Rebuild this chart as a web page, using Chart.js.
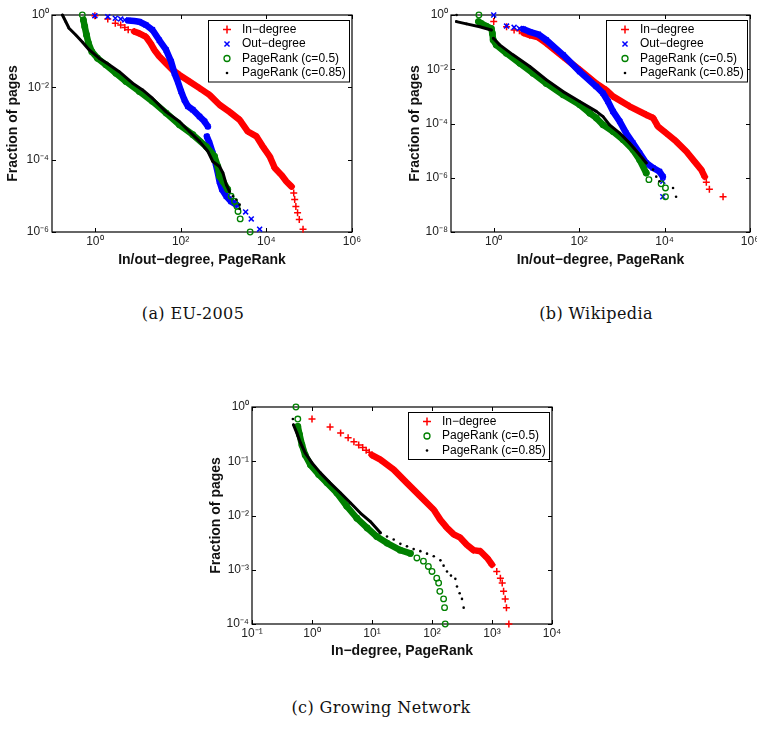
<!DOCTYPE html>
<html>
<head>
<meta charset="UTF-8">
<title>In-degree and PageRank distributions</title>
<script src="https://cdn.jsdelivr.net/npm/chart.js@4"></script>
<style>
  body { margin: 0; background: #fff; }
  #page { position: relative; width: 757px; height: 729px; overflow: hidden; }
  canvas { position: absolute; }
  .caption { position: absolute; font-family: "DejaVu Serif", serif; font-size: 16px; letter-spacing: 0.4px;
             line-height: 20px; white-space: nowrap; transform: translateX(-50%); color: #111; }
</style>
</head>
<body>
<div id="page">
  <canvas id="eu" width="380" height="272" style="left:0;top:0"></canvas>
  <canvas id="wiki" width="390" height="272" style="left:390px;top:0"></canvas>
  <canvas id="gn" width="380" height="275" style="left:200px;top:390px"></canvas>
  <div class="caption" style="left:193px;top:304px">(a) EU-2005</div>
  <div class="caption" style="left:596px;top:304px">(b) Wikipedia</div>
  <div class="caption" style="left:381px;top:698px">(c) Growing Network</div>
</div>

<script>
// (a) EU-2005
const euXTicks = [1, 1e2, 1e4, 1e6];
const euYTicks = [1, 1e-2, 1e-4, 1e-6];
const euInX = [1, 2, 3, 4, 5, 6, 8.3, 10.9, 15.6, 20, 24.5, 32, 46, 66, 94, 161, 277, 473, 810, 1390, 2390, 3720, 5890, 8300, 12000, 15800, 22400, 29500, 38900, 43700, 46000, 49000, 53700, 58900, 72000];
const euInY = [0.96, 0.78, 0.59, 0.53, 0.45, 0.39, 0.35, 0.31, 0.25, 0.165, 0.108, 0.071, 0.046, 0.03, 0.022, 0.0145, 0.0095, 0.0062, 0.0033, 0.0021, 0.00126, 6e-4, 4.4e-4, 2.3e-4, 1.23e-4, 5.9e-5, 3.8e-5, 2.5e-5, 1.8e-5, 1.2e-5, 7.9e-6, 5.1e-6, 3.4e-6, 2.2e-6, 1.2e-6];
const euOutX = [1, 2, 3, 4, 5, 6, 8.3, 10.9, 15.6, 22, 32, 46, 60, 72, 86, 103, 123, 148, 193, 277, 363, 433, 410, 473, 565, 655, 740, 810, 930, 1170, 1510, 2000, 3300, 4460, 7000];
const euOutY = [0.96, 0.9, 0.81, 0.78, 0.73, 0.7, 0.68, 0.65, 0.53, 0.39, 0.2, 0.108, 0.052, 0.0245, 0.0145, 0.0077, 0.0045, 0.003, 0.0024, 0.00156, 0.00114, 8.3e-4, 4.4e-4, 2.9e-4, 1.5e-4, 8.1e-5, 4.3e-5, 2.5e-5, 1.5e-5, 9.7e-6, 7e-6, 5.7e-6, 3.6e-6, 2.3e-6, 1.2e-6];
const euPr5X = [0.51, 0.54, 0.58, 0.64, 0.71, 0.85, 1.15, 1.8, 3.1, 5.3, 10.9, 22, 46, 94, 193, 398, 620, 740, 810, 975, 1260, 1510, 1820, 2070, 2190, 2460, 4200];
const euPr5Y = [1, 0.73, 0.48, 0.28, 0.165, 0.097, 0.064, 0.042, 0.0245, 0.0145, 0.0077, 0.0041, 0.00194, 9.2e-4, 4.9e-4, 2.3e-4, 1.23e-4, 6.5e-5, 3.5e-5, 2.5e-5, 1.5e-5, 9.7e-6, 7e-6, 5.1e-6, 3.7e-6, 2.3e-6, 1e-6];
const euPr85X = [0.175, 0.21, 0.25, 0.36, 0.51, 0.74, 1.26, 2.16, 3.7, 7.6, 13, 22, 46, 94, 161, 277, 433, 565, 810, 975, 1170, 1390, 1660, 2000, 2390, 2390];
const euPr85Y = [1, 0.65, 0.43, 0.28, 0.18, 0.108, 0.064, 0.042, 0.027, 0.013, 0.0085, 0.005, 0.0021, 0.00114, 6e-4, 3.2e-4, 1.7e-4, 8.9e-5, 6.5e-5, 4.3e-5, 2e-5, 1.3e-5, 9.7e-6, 7.8e-6, 5.7e-6, 4.4e-6];

// (b) Wikipedia
const wikiXTicks = [1, 1e2, 1e4, 1e6];
const wikiYTicks = [1, 1e-2, 1e-4, 1e-6, 1e-8];
const wikiInX = [1, 2, 3, 4, 5, 7, 11, 17, 42, 103, 252, 433, 620, 1510, 3720, 5370, 7000, 11000, 18600, 32400, 50000, 72000, 87000, 95000, 112000, 234000];
const wikiInY = [0.57, 0.37, 0.28, 0.26, 0.22, 0.18, 0.15, 0.091, 0.029, 0.0095, 0.003, 0.0017, 0.001, 4.3e-4, 2.1e-4, 1.6e-4, 7.8e-5, 4.4e-5, 2.2e-5, 9.3e-6, 4e-6, 2e-6, 1.1e-6, 6.8e-7, 3.8e-7, 2e-7];
const wikiOutX = [1, 2, 3, 4, 5, 7, 11, 17, 42, 103, 252, 363, 475, 620, 890, 1260, 1820, 2600, 3720, 5370, 7600, 9100, 9100, 9100];
const wikiOutY = [1, 0.39, 0.35, 0.32, 0.3, 0.24, 0.195, 0.12, 0.034, 0.0082, 0.0023, 0.0013, 6.5e-4, 2.8e-4, 1.2e-4, 4.4e-5, 1.9e-5, 8.1e-6, 3.5e-6, 2.3e-6, 1.7e-6, 1.1e-6, 7.4e-7, 2e-7];
const wikiPr5X = [0.45, 0.44, 0.51, 0.67, 0.88, 0.93, 0.97, 1.15, 1.98, 4.1, 8.3, 17, 42, 103, 178, 252, 363, 620, 1070, 1820, 2600, 3720, 4300, 8300, 10500, 10500];
const wikiPr5Y = [1, 0.57, 0.49, 0.39, 0.32, 0.21, 0.12, 0.079, 0.039, 0.0166, 0.0071, 0.003, 0.00114, 4.9e-4, 2.4e-4, 1.6e-4, 8.9e-5, 5.1e-5, 2.5e-5, 1.07e-5, 4.6e-6, 1.5e-6, 8.5e-7, 6e-7, 4.2e-7, 2e-7];
const wikiPr85X = [0.135, 0.134, 0.23, 0.47, 0.88, 0.98, 1.38, 2.83, 7, 17, 42, 103, 252, 363, 515, 890, 1510, 2600, 3720, 5370, 6400, 7600, 15800, 18600];
const wikiPr85Y = [1, 0.57, 0.47, 0.37, 0.28, 0.138, 0.079, 0.034, 0.0126, 0.0041, 0.0015, 6.5e-4, 2.8e-4, 1.8e-4, 8.9e-5, 4.4e-5, 1.9e-5, 7e-6, 3.5e-6, 2e-6, 1.1e-6, 7.4e-7, 4.2e-7, 2e-7];

// (c) Growing Network
const gnXTicks = [0.1, 1, 10, 100, 1000, 10000];
const gnYTicks = [1, 0.1, 0.01, 0.001, 1e-4];
const gnInX = [1, 2, 3, 4, 5, 6, 7, 8, 9, 10, 13.8, 23, 38, 64, 107, 138, 178, 230, 296, 380, 490, 640, 830, 1000, 1200, 1380, 1480, 1560, 1660, 1740, 1910];
const gnInY = [0.6, 0.43, 0.33, 0.27, 0.23, 0.2, 0.18, 0.16, 0.146, 0.13, 0.107, 0.07, 0.04, 0.0225, 0.0128, 0.0083, 0.0059, 0.0045, 0.0039, 0.0029, 0.0023, 0.0022, 0.00165, 0.00124, 9.3e-4, 7e-4, 5.7e-4, 4e-4, 2.9e-4, 2e-4, 1e-4];
const gnPr5X = [0.54, 0.58, 0.58, 0.62, 0.68, 0.77, 0.94, 1.29, 1.78, 2.6, 3.8, 5.6, 8.3, 12, 17.8, 29.5, 43.6, 56, 72, 87, 100, 120, 129, 135, 156, 162, 166];
const gnPr5Y = [1, 0.6, 0.44, 0.31, 0.2, 0.13, 0.086, 0.057, 0.04, 0.026, 0.0148, 0.0089, 0.0059, 0.0041, 0.0031, 0.0023, 0.002, 0.00165, 0.00144, 0.00115, 9.3e-4, 7e-4, 5.7e-4, 4e-4, 2.9e-4, 2e-4, 1e-4];
const gnPr85X = [0.48, 0.49, 0.56, 0.64, 0.77, 1, 1.38, 2.0, 3.0, 4.4, 6.4, 9.3, 13.8, 17.8, 23, 29.7, 38.3, 49.5, 64, 82.6, 107, 138, 156, 178, 207, 245, 261, 289, 316, 337];
const gnPr85Y = [0.6, 0.47, 0.33, 0.22, 0.142, 0.093, 0.061, 0.04, 0.026, 0.017, 0.0111, 0.0078, 0.0048, 0.0041, 0.0036, 0.003, 0.0027, 0.0024, 0.0022, 0.00198, 0.00177, 0.00149, 0.00119, 9.3e-4, 7.8e-4, 6.8e-4, 4.9e-4, 3.7e-4, 2.9e-4, 2e-4];

const FONT = '"Liberation Sans", Arial, Helvetica, sans-serif';
const STYLE = {
    in:   { label: 'In\u2212degree', color: '#ff0000', pointStyle: 'cross', r: 3.5, bw: 1.5, band: 6.5, order: 4, legendR: 4 },
    out:  { label: 'Out\u2212degree', color: '#0000ff', pointStyle: 'crossRot', r: 3.5, bw: 1.5, band: 6.5, order: 3, legendR: 3.6 },
    pr5:  { label: 'PageRank (c=0.5)', color: '#008000', pointStyle: 'circle', r: 2.8, bw: 1.3, band: 6.5, order: 2, legendR: 3 },
    pr85: { label: 'PageRank (c=0.85)', color: '#000000', pointStyle: 'circle', r: 1.3, bw: 0, band: 3, order: 1, legendR: 1.3, filled: true }
};

const SUP = { '-': '\u207B', '0': '\u2070', '1': '\u00B9', '2': '\u00B2', '3': '\u00B3', '4': '\u2074',
              '5': '\u2075', '6': '\u2076', '7': '\u2077', '8': '\u2078', '9': '\u2079' };
function powLabel(v) {
    const e = String(Math.round(Math.log10(v)));
    return '10' + e.split('').map(c => SUP[c]).join('');
}

function pts(xs, ys) {
    return xs.map((x, i) => ({ x: x, y: ys[i] }));
}
// dense runs of markers that merge into a solid band in the original
function band(xs, ys, ranges) {
    const out = [];
    ranges.forEach(([a, b], k) => {
        if (k) out.push({ x: NaN, y: null });
        out.push(...pts(xs.slice(a, b), ys.slice(a, b)));
    });
    return out;
}

function series(kind, xs, ys, ranges) {
    const s = STYLE[kind];
    return [
        { data: band(xs, ys, ranges), showLine: true, pointRadius: 0, borderColor: s.color, borderWidth: s.band,
          borderCapStyle: 'round', borderJoinStyle: 'round', order: s.order + 0.5, clip: false },
        { label: s.label, data: pts(xs, ys), showLine: false, pointStyle: s.pointStyle, pointRadius: s.r,
          pointBorderWidth: s.bw, pointBorderColor: s.color, legendR: s.legendR,
          pointBackgroundColor: s.filled ? s.color : 'rgba(0,0,0,0)', order: s.order, clip: false }
    ];
}

const axesFrame = {
    id: 'axesFrame',
    beforeDatasetsDraw(chart) {
        const { ctx, chartArea: a, scales: { x, y } } = chart;
        ctx.save();
        ctx.strokeStyle = '#000';
        ctx.lineWidth = 1.2;
        ctx.strokeRect(a.left, a.top, a.width, a.height);
        ctx.lineWidth = 1;
        ctx.beginPath();
        x.ticks.forEach(t => {
            const p = Math.round(x.getPixelForValue(t.value)) + 0.5;
            ctx.moveTo(p, a.bottom); ctx.lineTo(p, a.bottom - 4);
            ctx.moveTo(p, a.top); ctx.lineTo(p, a.top + 4);
        });
        y.ticks.forEach(t => {
            const p = Math.round(y.getPixelForValue(t.value)) + 0.5;
            ctx.moveTo(a.left, p); ctx.lineTo(a.left + 4, p);
            ctx.moveTo(a.right, p); ctx.lineTo(a.right - 4, p);
        });
        ctx.stroke();
        ctx.restore();
    }
};

// MATLAB style boxed legend in the top right corner of the axes
const boxLegend = {
    id: 'boxLegend',
    afterDatasetsDraw(chart) {
        const items = chart.data.datasets.filter(d => d.label);
        const { ctx, chartArea: a } = chart;
        const w = 141, row = 14.5, h = items.length * row + 3.5;
        const left = Math.round(a.right - 3 - w), top = Math.round(a.top + 5);
        ctx.save();
        ctx.fillStyle = '#fff';
        ctx.fillRect(left, top, w, h);
        ctx.strokeStyle = '#000';
        ctx.lineWidth = 1;
        ctx.strokeRect(left + 0.5, top + 0.5, w, h);
        items.forEach((d, i) => {
            const y = top + 9.5 + i * row;
            ctx.strokeStyle = d.pointBorderColor;
            ctx.fillStyle = d.pointBackgroundColor;
            ctx.lineWidth = d.pointBorderWidth;
            Chart.helpers.drawPoint(ctx, { pointStyle: d.pointStyle, radius: d.legendR, rotation: 0,
                                           borderWidth: d.pointBorderWidth }, left + 19, y);
            ctx.fillStyle = '#000';
            ctx.font = '12px ' + FONT;
            ctx.textBaseline = 'middle';
            ctx.textAlign = 'left';
            ctx.fillText(d.label, left + 34, y);
        });
        ctx.restore();
    }
};

function makeChart(id, c) {
    const tickFont = { size: 12, family: FONT };
    const titleFont = { size: 14, weight: 'bold', family: FONT };
    return new Chart(document.getElementById(id), {
        type: 'scatter',
        data: { datasets: c.datasets },
        options: {
            responsive: false,
            animation: false,
            events: [],
            layout: { padding: { top: c.padTop, right: c.padRight, left: 0, bottom: 0 } },
            plugins: { legend: { display: false }, tooltip: { enabled: false } },
            scales: {
                x: {
                    type: 'logarithmic', min: c.xMin, max: c.xMax,
                    afterBuildTicks: s => { s.ticks = c.xTicks.map(v => ({ value: v })); },
                    afterFit: s => { s.height = c.xAxisH; },
                    grid: { display: false, drawTicks: false },
                    border: { display: false },
                    ticks: { callback: v => powLabel(v), font: tickFont, color: '#222', padding: 2,
                             maxRotation: 0, autoSkip: false },
                    title: { display: true, text: c.xTitle, font: titleFont, color: '#111',
                             padding: { top: 0, bottom: c.xTitlePad } }
                },
                y: {
                    type: 'logarithmic', min: c.yMin, max: c.yMax,
                    afterBuildTicks: s => { s.ticks = c.yTicks.map(v => ({ value: v })); },
                    afterFit: s => { s.width = c.yAxisW; },
                    grid: { display: false, drawTicks: false },
                    border: { display: false },
                    ticks: { callback: v => powLabel(v), font: tickFont, color: '#222', padding: 3, autoSkip: false },
                    title: { display: true, text: 'Fraction of pages', font: titleFont, color: '#111',
                             padding: { top: c.yTitlePad, bottom: 0 } }
                }
            }
        },
        plugins: [axesFrame, boxLegend]
    });
}

makeChart('eu', {
    datasets: [
        ...series('in', euInX, euInY, [[6, 29]]),
        ...series('out', euOutX, euOutY, [[5, 22], [22, 32]]),
        ...series('pr5', euPr5X, euPr5Y, [[1, 21]]),
        ...series('pr85', euPr85X, euPr85Y, [[0, 22]])
    ],
    xMin: 0.1, xMax: 1e6, yMin: 1e-6, yMax: 1,
    xTicks: euXTicks, yTicks: euYTicks,
    xTitle: 'In/out\u2212degree, PageRank',
    padTop: 15, padRight: 28, xAxisH: 40, yAxisW: 52, xTitlePad: 3, yTitlePad: 5
});

makeChart('wiki', {
    datasets: [
        ...series('in', wikiInX, wikiInY, [[4, 23]]),
        ...series('out', wikiOutX, wikiOutY, [[4, 22]]),
        ...series('pr5', wikiPr5X, wikiPr5Y, [[1, 22]]),
        ...series('pr85', wikiPr85X, wikiPr85Y, [[1, 5], [5, 19]])
    ],
    xMin: 0.1, xMax: 1e6, yMin: 1e-8, yMax: 1,
    xTicks: wikiXTicks, yTicks: wikiYTicks,
    xTitle: 'In/out\u2212degree, PageRank',
    padTop: 15, padRight: 30, xAxisH: 40, yAxisW: 61, xTitlePad: 3, yTitlePad: 17
});

makeChart('gn', {
    datasets: [
        ...series('in', gnInX, gnInY, [[9, 24]]),
        ...series('pr5', gnPr5X, gnPr5Y, [[2, 17]]),
        ...series('pr85', gnPr85X, gnPr85Y, [[1, 13]])
    ],
    xMin: 0.1, xMax: 1e4, yMin: 1e-4, yMax: 1,
    xTicks: gnXTicks, yTicks: gnYTicks,
    xTitle: 'In\u2212degree, PageRank',
    padTop: 17, padRight: 28, xAxisH: 41, yAxisW: 52, xTitlePad: 5, yTitlePad: 8
});
</script>
</body>
</html>
